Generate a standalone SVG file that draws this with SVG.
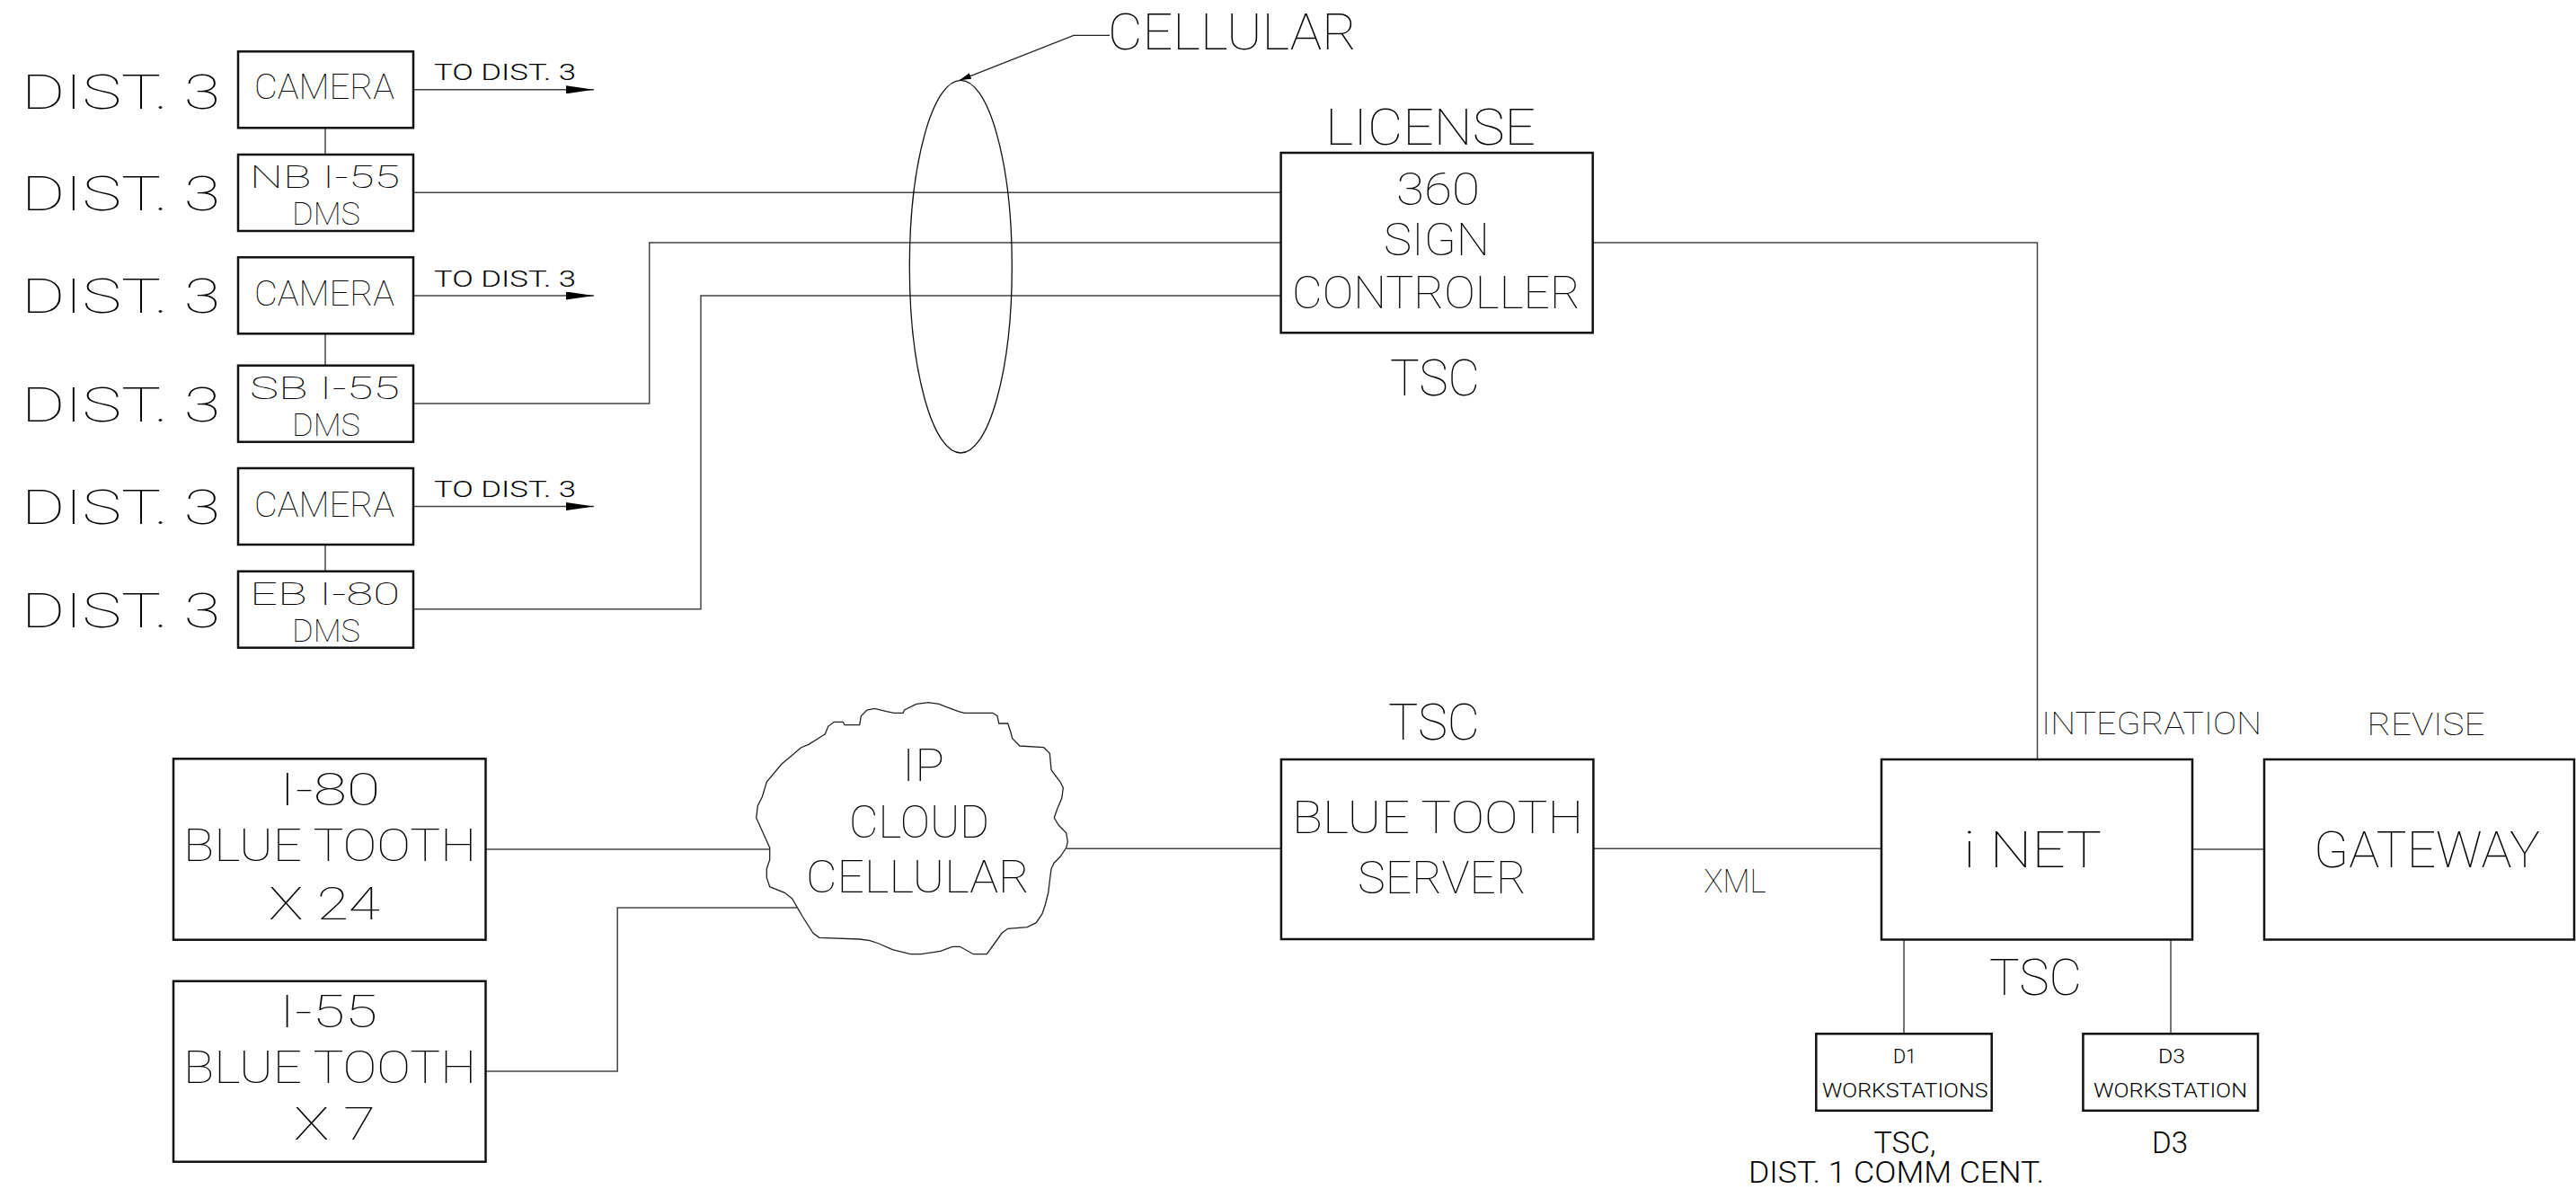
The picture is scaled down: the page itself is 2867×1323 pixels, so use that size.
<svg xmlns="http://www.w3.org/2000/svg" width="2867" height="1323" viewBox="0 0 2867 1323">
<style>
text{font-family:Roboto,"Liberation Sans",sans-serif;font-weight:100;fill:#000;}
.sm{font-weight:300;}
.box{fill:none;stroke:#111;stroke-width:2.5;}
.wire{fill:none;stroke:#444;stroke-width:1.5;}
.thin{fill:none;stroke:#222;stroke-width:1.3;}
.s56{font-size:56px}.s54{font-size:54px}.s55{font-size:55px}.s50{font-size:50px}
.s39{font-size:39.5px}.s35d{font-size:35.5px}.s37{font-size:36.6px}.s35{font-size:35px}.s33{font-size:33px}
.s26{font-size:26.3px}.s22{font-size:22.5px}
</style>
<defs>
<marker id="arr" markerUnits="userSpaceOnUse" viewBox="0 0 31 9" markerWidth="31" markerHeight="9" refX="31" refY="4.5" orient="auto"><path d="M0,0 L31,4.5 L0,9 z" fill="#000"/></marker>
<marker id="arrs" markerUnits="userSpaceOnUse" viewBox="0 0 13 7" markerWidth="13" markerHeight="7" refX="13" refY="3.5" orient="auto"><path d="M0,0 L13,3.5 L0,7 z" fill="#000"/></marker>
</defs>
<rect width="2867" height="1323" fill="#fff"/>

<g id="connectors">
<line class="wire" x1="362" y1="142.3" x2="362" y2="172"/>
<line class="wire" x1="362" y1="371.3" x2="362" y2="406.7"/>
<line class="wire" x1="362" y1="606" x2="362" y2="635.7"/>
<line class="wire" x1="460" y1="99.8" x2="661" y2="99.8" marker-end="url(#arr)"/>
<line class="wire" x1="460" y1="329" x2="661" y2="329" marker-end="url(#arr)"/>
<line class="wire" x1="460" y1="563.5" x2="661" y2="563.5" marker-end="url(#arr)"/>
<polyline class="wire" points="460,214.3 1425.6,214.3"/>
<polyline class="wire" points="460,449 722.7,449 722.7,270 1425.6,270"/>
<polyline class="wire" points="460,677.7 780,677.7 780,329 1425.6,329"/>
<polyline class="wire" points="1772.7,270 2267.5,270 2267.5,845"/>
<polyline class="wire" points="540.5,945 857,945"/>
<polyline class="wire" points="540.5,1192 687.2,1192 687.2,1010 887,1010"/>
<polyline class="wire" points="1187,944.3 1425.9,944.3"/>
<polyline class="wire" points="1773.4,944.3 2094,944.3"/>
<polyline class="wire" points="2440,945 2520,945"/>
<line class="wire" x1="2119" y1="1045.5" x2="2119" y2="1150.3"/>
<line class="wire" x1="2416" y1="1045.5" x2="2416" y2="1150.3"/>
<polyline class="thin" points="1235,39.3 1195,39.3 1068,89.3" marker-end="url(#arrs)"/>
</g>

<g id="labels-dist3">
<text class="s54" x="24" y="120.5" textLength="221" lengthAdjust="spacingAndGlyphs">DIST. 3</text>
<text class="s54" x="24" y="234" textLength="221" lengthAdjust="spacingAndGlyphs">DIST. 3</text>
<text class="s54" x="24" y="348.3" textLength="221" lengthAdjust="spacingAndGlyphs">DIST. 3</text>
<text class="s54" x="24" y="469.3" textLength="221" lengthAdjust="spacingAndGlyphs">DIST. 3</text>
<text class="s54" x="24" y="582.5" textLength="221" lengthAdjust="spacingAndGlyphs">DIST. 3</text>
<text class="s54" x="24" y="697.7" textLength="221" lengthAdjust="spacingAndGlyphs">DIST. 3</text>
<text class="s26 sm" x="483" y="89.3" textLength="158" lengthAdjust="spacingAndGlyphs">TO DIST. 3</text>
<text class="s26 sm" x="483" y="318.5" textLength="158" lengthAdjust="spacingAndGlyphs">TO DIST. 3</text>
<text class="s26 sm" x="483" y="552.7" textLength="158" lengthAdjust="spacingAndGlyphs">TO DIST. 3</text>
</g>

<g id="camera1"><rect class="box" x="265" y="57.3" width="195" height="85"/><text class="s39" x="283" y="110" textLength="156" lengthAdjust="spacingAndGlyphs">CAMERA</text></g>
<g id="nb-i55-dms"><rect class="box" x="265" y="172" width="195" height="85"/><text class="s35d" x="278" y="209" textLength="167" lengthAdjust="spacingAndGlyphs">NB I-55</text><text class="s35d" x="325" y="250.3" textLength="76" lengthAdjust="spacingAndGlyphs">DMS</text></g>
<g id="camera2"><rect class="box" x="265" y="286.3" width="195" height="85"/><text class="s39" x="283" y="339.5" textLength="156" lengthAdjust="spacingAndGlyphs">CAMERA</text></g>
<g id="sb-i55-dms"><rect class="box" x="265" y="406.7" width="195" height="85"/><text class="s35d" x="278" y="443.7" textLength="167" lengthAdjust="spacingAndGlyphs">SB I-55</text><text class="s35d" x="325" y="485" textLength="76" lengthAdjust="spacingAndGlyphs">DMS</text></g>
<g id="camera3"><rect class="box" x="265" y="521" width="195" height="85"/><text class="s39" x="283" y="575" textLength="156" lengthAdjust="spacingAndGlyphs">CAMERA</text></g>
<g id="eb-i80-dms"><rect class="box" x="265" y="635.7" width="195" height="85"/><text class="s35d" x="278" y="672.5" textLength="167" lengthAdjust="spacingAndGlyphs">EB I-80</text><text class="s35d" x="325" y="713.8" textLength="76" lengthAdjust="spacingAndGlyphs">DMS</text></g>

<g id="cellular">
<ellipse cx="1069.3" cy="296.7" rx="57" ry="207.3" fill="none" stroke="#111" stroke-width="1.3"/>
<text class="s55" x="1233" y="55" textLength="277" lengthAdjust="spacingAndGlyphs">CELLULAR</text>
</g>

<g id="sign-controller">
<text class="s55" x="1475" y="161" textLength="234" lengthAdjust="spacingAndGlyphs">LICENSE</text>
<rect class="box" x="1425.6" y="170" width="347.1" height="200.3"/>
<text class="s50" x="1554" y="227.7" textLength="93" lengthAdjust="spacingAndGlyphs">360</text>
<text class="s50" x="1540" y="284.3" textLength="118" lengthAdjust="spacingAndGlyphs">SIGN</text>
<text class="s50" x="1438" y="343" textLength="321" lengthAdjust="spacingAndGlyphs">CONTROLLER</text>
<text class="s55" x="1547" y="440" textLength="100" lengthAdjust="spacingAndGlyphs">TSC</text>
</g>

<g id="i80-bluetooth">
<rect class="box" x="193" y="844.3" width="347.5" height="201.4"/>
<text class="s50" x="311" y="895.7" textLength="112" lengthAdjust="spacingAndGlyphs">I-80</text>
<text class="s50" x="204" y="957.7" textLength="326" lengthAdjust="spacingAndGlyphs">BLUE TOOTH</text>
<text class="s50" x="299" y="1022.7" textLength="124" lengthAdjust="spacingAndGlyphs">X 24</text>
</g>
<g id="i55-bluetooth">
<rect class="box" x="193" y="1091.7" width="347.5" height="201"/>
<text class="s50" x="311" y="1142.7" textLength="109" lengthAdjust="spacingAndGlyphs">I-55</text>
<text class="s50" x="204" y="1205" textLength="326" lengthAdjust="spacingAndGlyphs">BLUE TOOTH</text>
<text class="s50" x="327" y="1268.3" textLength="91" lengthAdjust="spacingAndGlyphs">X 7</text>
</g>

<g id="ip-cloud">
<path class="thin" d="M856.7,943.3 L841.7,910 L843.3,896.7 L848.3,886.7 L853.3,870 L870,850 L880,841.7 L891.7,831.7 L900,828.3 L913.3,820 L918.3,816.7 L921.7,808.3 L928.3,803.3 L938.3,803.3 L940,806.7 L956.7,806.7 L958.3,796.7 L965,790 L973.3,788.3 L986.7,791.7 L995,793.3 L1005,793.3 L1006.7,790 L1020,783.3 L1033.3,781.7 L1045,783.3 L1053.3,786.7 L1066.7,791.7 L1073.3,793.3 L1105,793.3 L1110,796.7 L1111.7,805 L1121.7,805 L1125,815 L1126.7,821.7 L1135,830 L1161.7,831.7 L1168.3,838.3 L1170,856.7 L1180,870 L1183.3,876.7 L1181.7,888.3 L1176.7,900 L1173.3,910 L1178.3,918.3 L1186.7,926.7 L1188.3,936.7 L1186.7,943.3 L1180,953.3 L1173.3,960 L1170,966.7 L1168.3,980 L1166.7,993.3 L1163.3,1006.7 L1160,1016.7 L1153.3,1026.7 L1143.3,1031.7 L1121.7,1033.3 L1115,1038.3 L1106.7,1050 L1098.3,1061.7 L1083.3,1061.7 L1068.3,1053.3 L1060,1053.3 L1046.7,1058.3 L1025,1061.7 L1013.3,1061.7 L993.3,1056.7 L978.3,1050 L968.3,1046.7 L956.7,1045 L911.7,1043.3 L905,1038.3 L893.3,1020 L881.7,1000 L873.3,993.3 L856.7,986.7 L853.3,976.7 L853.3,966.7 L856.7,956.7 Z"/>
<text class="s50" x="1004" y="869.3" textLength="47" lengthAdjust="spacingAndGlyphs">IP</text>
<text class="s50" x="945" y="931.7" textLength="156" lengthAdjust="spacingAndGlyphs">CLOUD</text>
<text class="s50" x="897" y="993.3" textLength="249" lengthAdjust="spacingAndGlyphs">CELLULAR</text>
</g>

<g id="bluetooth-server">
<text class="s55" x="1545" y="823.3" textLength="102" lengthAdjust="spacingAndGlyphs">TSC</text>
<rect class="box" x="1425.9" y="845" width="347.5" height="200"/>
<text class="s50" x="1438" y="926.7" textLength="324" lengthAdjust="spacingAndGlyphs">BLUE TOOTH</text>
<text class="s50" x="1511" y="994.3" textLength="188" lengthAdjust="spacingAndGlyphs">SERVER</text>
</g>

<g id="xml-label"><text class="s37" x="1896.5" y="992.7" textLength="69" lengthAdjust="spacingAndGlyphs">XML</text></g>

<g id="inet">
<text class="s35" x="2272" y="816.7" textLength="245" lengthAdjust="spacingAndGlyphs">INTEGRATION</text>
<rect class="box" x="2094" y="845" width="346" height="200.5"/>
<text class="s56" x="2185" y="964.7" textLength="154" lengthAdjust="spacingAndGlyphs">i NET</text>
<text class="s56" x="2214" y="1106.5" textLength="103" lengthAdjust="spacingAndGlyphs">TSC</text>
</g>

<g id="gateway">
<text class="s35" x="2634.5" y="817.5" textLength="131" lengthAdjust="spacingAndGlyphs">REVISE</text>
<rect class="box" x="2520" y="845" width="345" height="200.5"/>
<text class="s56" x="2575" y="964.7" textLength="252" lengthAdjust="spacingAndGlyphs">GATEWAY</text>
</g>

<g id="d1-workstations">
<rect class="box" x="2021.3" y="1150.3" width="195.4" height="85.5"/>
<text class="s22 sm" x="2107" y="1183" textLength="26" lengthAdjust="spacingAndGlyphs">D1</text>
<text class="s22 sm" x="2028" y="1220.7" textLength="184.5" lengthAdjust="spacingAndGlyphs">WORKSTATIONS</text>
<text class="s33 sm" x="2085.5" y="1282.7" textLength="69" lengthAdjust="spacingAndGlyphs">TSC,</text>
<text class="s33 sm" x="1946" y="1316" textLength="329" lengthAdjust="spacingAndGlyphs">DIST. 1 COMM CENT.</text>
</g>

<g id="d3-workstation">
<rect class="box" x="2318.4" y="1150.3" width="194.6" height="85.5"/>
<text class="s22 sm" x="2402" y="1183" textLength="30" lengthAdjust="spacingAndGlyphs">D3</text>
<text class="s22 sm" x="2330" y="1220.7" textLength="171" lengthAdjust="spacingAndGlyphs">WORKSTATION</text>
<text class="s33 sm" x="2395" y="1282.5" textLength="40" lengthAdjust="spacingAndGlyphs">D3</text>
</g>
</svg>
